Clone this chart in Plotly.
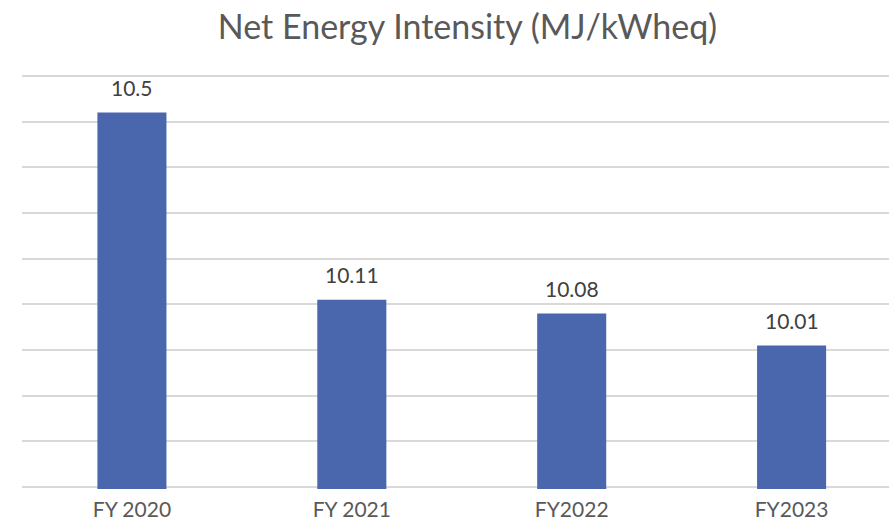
import plotly.graph_objects as go

categories = ["FY 2020", "FY 2021", "FY2022", "FY2023"]
values = [10.52, 10.11, 10.08, 10.01]
labels = ["10.5", "10.11", "10.08", "10.01"]

FONT = "Lato, Open Sans, sans-serif"

fig = go.Figure(go.Bar(
    x=categories,
    y=values,
    marker=dict(color="#4a66ad", line=dict(width=0)),
    width=0.314,
    hoverinfo="x+y",
))

for c, v, t in zip(categories, values, labels):
    fig.add_annotation(
        x=c, y=v, text=t, showarrow=False,
        yanchor="middle", yshift=25,
        font=dict(size=21, color="#404040", family=FONT),
    )

fig.update_layout(
    width=889,
    height=523,
    margin=dict(l=21.5, r=0, t=74, b=34, autoexpand=False),
    paper_bgcolor="white",
    plot_bgcolor="white",
    title=dict(
        text="Net Energy Intensity (MJ/kWheq)",
        x=467.5 / 889,
        xanchor="center",
        y=1 - 27 / 523,
        yanchor="middle",
        font=dict(size=34, color="#595959", family=FONT),
    ),
    showlegend=False,
    xaxis=dict(
        range=[-0.5, 3.443],
        showgrid=False,
        showline=False,
        ticks="",
        ticklabelstandoff=6,
        tickfont=dict(size=21, color="#595959", family=FONT),
    ),
    yaxis=dict(
        range=[9.6956, 10.6044],
        dtick=0.1,
        tick0=9.7,
        showgrid=True,
        gridcolor="#d9d9d9",
        gridwidth=1.5,
        showticklabels=False,
        zeroline=False,
        showline=False,
    ),
)

fig.write_html(
    "out.html",
    config={"displayModeBar": False},
    post_script="document.body.style.margin='0';document.body.style.padding='0';",
)
